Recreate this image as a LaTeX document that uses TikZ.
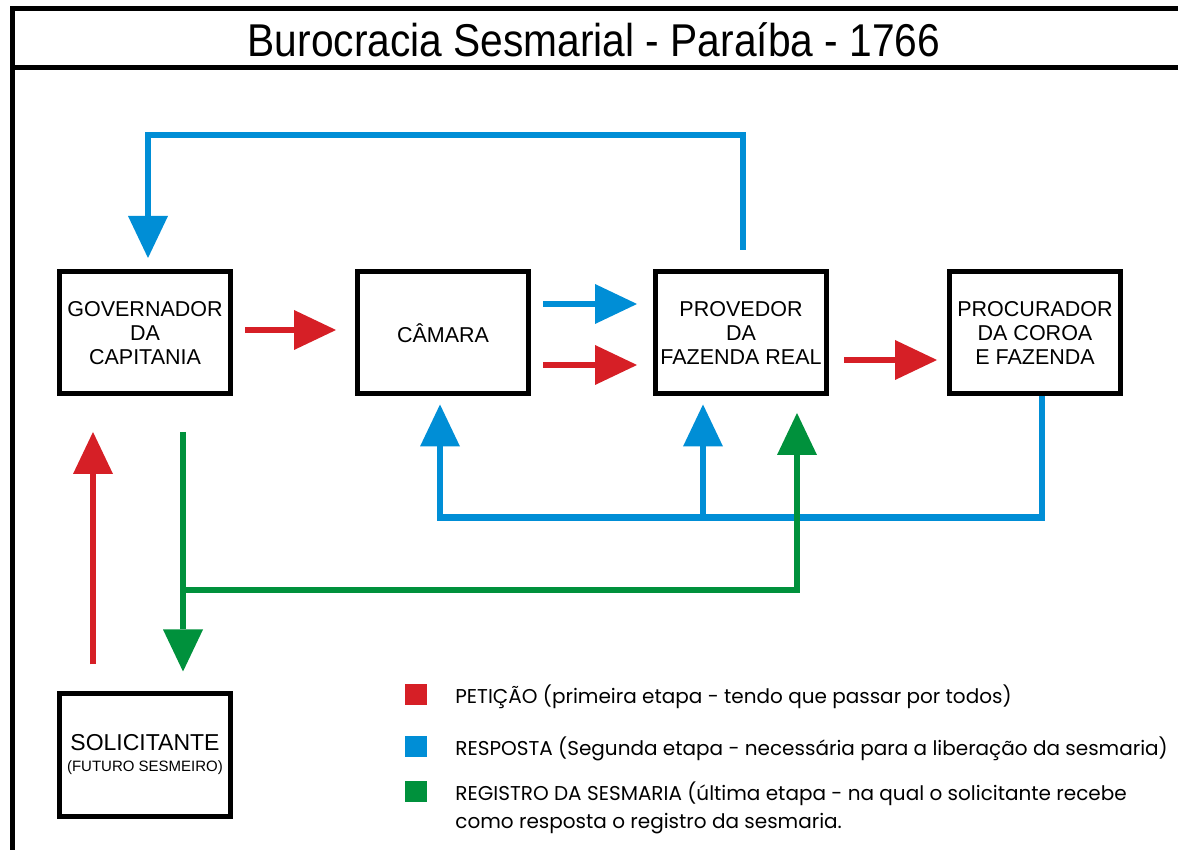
\documentclass[tikz,border=0pt]{standalone}
\usepackage{fontspec}
\newfontfamily\boxfnt{Liberation Sans}
\newfontfamily\titlefnt[FakeStretch=0.885]{Liberation Sans}
\newfontfamily\keyfnt{Poppins}
\usetikzlibrary{positioning,arrows.meta}
\definecolor{petred}{HTML}{D61F26}
\definecolor{respblue}{HTML}{008ED6}
\definecolor{reggreen}{HTML}{00913C}

\begin{document}
\begin{tikzpicture}[
    x=1pt, y=1pt,
    node distance=122pt,
    office/.style={rectangle, draw=black, line width=5pt, minimum width=171pt,
      minimum height=122pt, align=center, inner sep=2pt,
      font=\boxfnt\fontsize{21.5}{24}\selectfont},
    key/.style={rectangle, minimum width=22pt, minimum height=21pt, inner sep=0pt},
    keytext/.style={anchor=base west, align=left, inner sep=0pt,
      font=\keyfnt\fontsize{20}{28}\selectfont},
    flow/.style={line width=6.5pt, -{Triangle[length=42pt,width=40pt,line width=0pt]}},
    pet/.style={flow, petred},
    resp/.style={flow, respblue},
    reg/.style={flow, reggreen},
  ]
  \useasboundingbox (0,0) rectangle (1178,849);
  \clip (0,0) rectangle (1178,849);

  % frame and title
  \draw[line width=5pt] (12,-30) -- (12,840) -- (1200,840);
  \draw[line width=5pt] (12,781) -- (1200,781);
  \node (title) [anchor=base, font=\titlefnt\fontsize{46}{50}\selectfont]
    at (594,792) {Burocracia Sesmarial - Paraíba - 1766};

  % offices
  \node (gov)   [office] at (145,516)        {GOVERNADOR\\ DA\\ CAPITANIA};
  \node (cam)   [office, right=of gov]       {CÂMARA};
  \node (prov)  [office, right=of cam]       {PROVEDOR\\ DA\\ FAZENDA REAL};
  \node (proc)  [office, right=118pt of prov] {PROCURADOR\\ DA COROA\\ E FAZENDA};
  \node (sol)   [office, below=295pt of gov]
    {{\fontsize{23}{24}\selectfont SOLICITANTE}\\[-3pt]{\fontsize{15}{17}\selectfont (FUTURO SESMEIRO)}};

  % legend
  \node (petkey)  [key, fill=petred]   at (416,154.5) {};
  \node (respkey) [key, fill=respblue, below=31pt of petkey]   {};
  \node (regkey)  [key, fill=reggreen, below=23.5pt of respkey] {};
  \node (pettext)  [keytext] at ([xshift=28pt,yshift=2pt]petkey.south east)
    {PETIÇÃO (primeira etapa - tendo que passar por todos)};
  \node (resptext) [keytext] at ([xshift=28pt,yshift=2pt]respkey.south east)
    {RESPOSTA (Segunda etapa - necessária para a liberação da sesmaria)};
  % base of a two-line node is its last line
  \node (regtext)  [keytext] at ([xshift=28pt,yshift=-26pt]regkey.south east)
    {REGISTRO DA SESMARIA (última etapa - na qual o solicitante recebe\\
     como resposta o registro da sesmaria.};

  % peticao
  \draw[pet]  ([xshift=12pt,yshift=3pt]gov.east)    -- ([xshift=-19pt,yshift=3pt]cam.west);
  \draw[pet]  ([xshift=12pt,yshift=-32pt]cam.east)  -- ([xshift=-16pt,yshift=-32pt]prov.west);
  \draw[pet]  ([xshift=15pt,yshift=-27pt]prov.east) -- ([xshift=-10pt,yshift=-27pt]proc.west);
  \draw[pet]  ([xshift=-52pt,yshift=27pt]sol.north) -- ([xshift=-52pt,yshift=-35.5pt]gov.south);

  % resposta
  \draw[resp] ([xshift=12pt,yshift=29pt]cam.east)   -- ([xshift=-16pt,yshift=29pt]prov.west);
  \draw[resp] ([xshift=2pt,yshift=19.5pt]prov.north) -- ++(0,115)
              -| ([xshift=3pt,yshift=11.5pt]gov.north);
  \draw[resp] ([xshift=7pt]proc.south) -- ++(0,-121) coordinate (respjoin)
              -| ([xshift=-3pt,yshift=-8pt]cam.south);
  \draw[resp] ([xshift=-38pt]prov.south |- respjoin) -- ([xshift=-38pt,yshift=-8pt]prov.south);

  % registro
  \draw[reg]  ([xshift=38pt,yshift=-35.5pt]gov.south) -- ([xshift=38pt,yshift=20pt]sol.north);
  \coordinate (regjoin) at (183,259);
  \draw[reg]  (regjoin) -| ([xshift=56pt,yshift=-16.5pt]prov.south);

\end{tikzpicture}
\end{document}
